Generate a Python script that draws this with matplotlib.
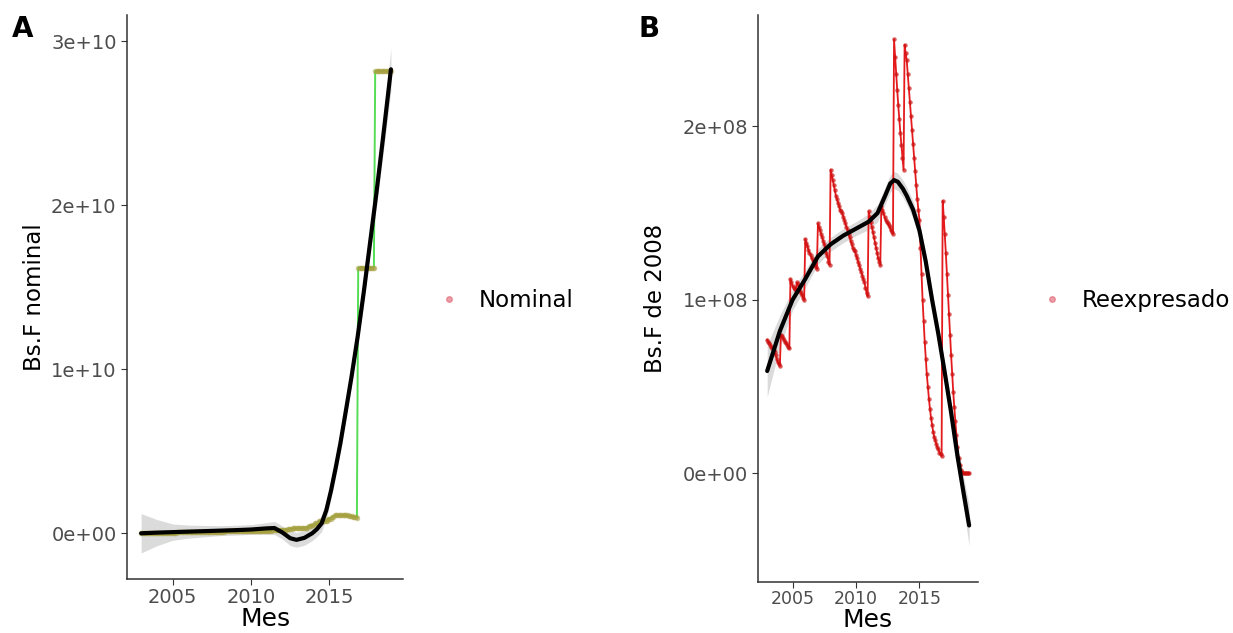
import numpy as np
import matplotlib
matplotlib.use("Agg")
import matplotlib.pyplot as plt
from matplotlib.lines import Line2D

plt.rcParams['font.family'] = ['DejaVu Sans']

start_year = 2003
# nominal wage, Bs.F (x 1e10), one value per month 2003-2018
nominal = [
    0.002, 0.002, 0.002, 0.002, 0.003, 0.003, 0.003, 0.003, 0.003, 0.003, 0.003, 0.003,
    0.003, 0.003, 0.003, 0.003, 0.004, 0.004, 0.004, 0.004, 0.004, 0.004, 0.004, 0.004,
    0.004, 0.004, 0.004, 0.004, 0.005, 0.005, 0.005, 0.005, 0.005, 0.005, 0.005, 0.005,
    0.005, 0.006, 0.006, 0.006, 0.007, 0.007, 0.007, 0.007, 0.007, 0.007, 0.007, 0.007,
    0.007, 0.007, 0.007, 0.007, 0.009, 0.009, 0.009, 0.009, 0.009, 0.009, 0.009, 0.009,
    0.009, 0.009, 0.009, 0.009, 0.011, 0.011, 0.011, 0.011, 0.011, 0.011, 0.011, 0.011,
    0.011, 0.011, 0.011, 0.012, 0.012, 0.012, 0.012, 0.012, 0.013, 0.013, 0.013, 0.013,
    0.013, 0.013, 0.013, 0.015, 0.015, 0.015, 0.015, 0.015, 0.016, 0.016, 0.016, 0.016,
    0.016, 0.016, 0.016, 0.016, 0.020, 0.020, 0.020, 0.020, 0.022, 0.022, 0.022, 0.022,
    0.022, 0.022, 0.022, 0.022, 0.028, 0.028, 0.028, 0.028, 0.030, 0.030, 0.030, 0.030,
    0.030, 0.030, 0.030, 0.030, 0.035, 0.035, 0.035, 0.035, 0.045, 0.045, 0.045, 0.050,
    0.050, 0.060, 0.060, 0.060, 0.075, 0.075, 0.075, 0.075, 0.075, 0.075, 0.075, 0.090,
    0.090, 0.090, 0.100, 0.100, 0.110, 0.110, 0.110, 0.110, 0.110, 0.110, 0.110, 0.110,
    0.110, 0.110, 0.110, 0.105, 0.105, 0.105, 0.100, 0.100, 0.100, 0.095, 1.620, 1.620,
    1.620, 1.620, 1.620, 1.620, 1.620, 1.620, 1.620, 1.620, 1.620, 1.620, 1.620, 2.820,
    2.820, 2.820, 2.820, 2.820, 2.820, 2.820, 2.820, 2.820, 2.820, 2.820, 2.820, 2.820,
]
# wage in Bs.F of 2008 (x 1e8), one value per month 2003-2018
reexpresado = [
    0.77, 0.76, 0.75, 0.74, 0.73, 0.72, 0.71, 0.70, 0.68, 0.66, 0.64, 0.63,
    0.62, 0.80, 0.79, 0.78, 0.77, 0.76, 0.75, 0.74, 0.73, 0.72, 1.12, 1.10,
    1.08, 1.07, 1.06, 1.05, 1.10, 1.09, 1.07, 1.05, 1.04, 1.03, 1.01, 1.00,
    1.35, 1.33, 1.31, 1.29, 1.27, 1.26, 1.24, 1.23, 1.22, 1.20, 1.19, 1.18,
    1.44, 1.42, 1.40, 1.38, 1.36, 1.34, 1.32, 1.30, 1.27, 1.25, 1.22, 1.20,
    1.75, 1.72, 1.69, 1.66, 1.63, 1.60, 1.58, 1.56, 1.54, 1.52, 1.51, 1.50,
    1.48, 1.46, 1.44, 1.42, 1.40, 1.38, 1.36, 1.34, 1.32, 1.30, 1.29, 1.28,
    1.26, 1.24, 1.22, 1.20, 1.18, 1.16, 1.14, 1.12, 1.10, 1.07, 1.04, 1.02,
    1.51, 1.48, 1.45, 1.42, 1.39, 1.36, 1.33, 1.30, 1.27, 1.24, 1.22, 1.20,
    1.54, 1.52, 1.50, 1.48, 1.46, 1.45, 1.44, 1.43, 1.42, 1.40, 1.39, 1.38,
    2.50, 2.40, 2.30, 2.21, 2.12, 2.04, 1.96, 1.89, 1.82, 1.75, 2.47, 2.42,
    2.38, 2.30, 2.22, 2.14, 2.06, 1.98, 1.90, 1.82, 1.74, 1.66, 1.58, 1.52,
    1.46, 1.30, 1.15, 1.00, 0.88, 0.76, 0.66, 0.57, 0.50, 0.43, 0.37, 0.32,
    0.28, 0.24, 0.21, 0.19, 0.17, 0.15, 0.14, 0.12, 0.11, 0.10, 1.57, 1.48,
    1.38, 1.27, 1.15, 1.03, 0.92, 0.80, 0.68, 0.57, 0.47, 0.38, 0.30, 0.22,
    0.15, 0.09, 0.05, 0.02, 0.01, 0.005, 0.003, 0.002, 0.001, 0.001, 0.001, 0.001,
]

# smoothed trend (geom_smooth)
smooth_a_x = [2003.0, 2004.0, 2005.0, 2006.0, 2007.0, 2008.0, 2009.0, 2010.0, 2011.0, 2011.5,
              2012.0, 2012.5, 2012.9, 2013.4, 2013.9, 2014.2, 2014.5, 2014.8, 2015.1, 2015.4,
              2015.7, 2016.0, 2016.4, 2016.8, 2017.2, 2017.6, 2018.0, 2018.4, 2018.92]
smooth_a_y = [0.000, 0.004, 0.007, 0.010, 0.013, 0.016, 0.019, 0.023, 0.030, 0.032,
              0.005, -0.030, -0.040, -0.028, 0.000, 0.025, 0.060, 0.140, 0.260, 0.400,
              0.550, 0.720, 0.950, 1.200, 1.480, 1.780, 2.080, 2.400, 2.830]
smooth_a_se = [0.12, 0.08, 0.05, 0.04, 0.035, 0.03, 0.03, 0.03, 0.035, 0.04,
               0.04, 0.045, 0.045, 0.045, 0.045, 0.045, 0.05, 0.05, 0.05, 0.05,
               0.05, 0.05, 0.05, 0.05, 0.06, 0.07, 0.08, 0.10, 0.13]

smooth_b_x = [2003.0, 2004.0, 2005.0, 2006.0, 2007.0, 2008.0, 2009.0, 2010.0, 2011.0, 2011.7,
              2012.3, 2012.7, 2013.0, 2013.3, 2013.7, 2014.0, 2014.5, 2015.0, 2015.5, 2016.0,
              2016.5, 2017.0, 2017.5, 2018.0, 2018.5, 2018.92]
smooth_b_y = [0.59, 0.82, 1.00, 1.12, 1.25, 1.32, 1.37, 1.41, 1.45, 1.50,
              1.60, 1.67, 1.69, 1.68, 1.64, 1.60, 1.52, 1.40, 1.22, 1.00,
              0.80, 0.58, 0.35, 0.10, -0.12, -0.30]
smooth_b_se = [0.15, 0.09, 0.06, 0.05, 0.045, 0.04, 0.04, 0.04, 0.045, 0.05,
               0.05, 0.05, 0.05, 0.05, 0.05, 0.05, 0.05, 0.05, 0.05, 0.05,
               0.05, 0.055, 0.06, 0.07, 0.09, 0.12]

mes = start_year + np.arange(len(nominal)) / 12.0
nominal = np.array(nominal) * 1e10
reexpresado = np.array(reexpresado) * 1e8

fig = plt.figure(figsize=(12.33, 6.33), dpi=100)
ax1 = fig.add_axes([0.103, 0.085, 0.224, 0.891])
ax2 = fig.add_axes([0.615, 0.081, 0.178, 0.895])

tick_col = '#4d4d4d'


def style(ax, ylabel, xsize, ylab_x):
    for s in ['top', 'right']:
        ax.spines[s].set_visible(False)
    for s in ['left', 'bottom']:
        ax.spines[s].set_color('#333333')
        ax.spines[s].set_linewidth(1.1)
    ax.tick_params(colors='#333333', labelcolor=tick_col, labelsize=14, length=4)
    ax.tick_params(axis='x', labelsize=xsize, pad=2)
    ax.set_xlabel('Mes', fontsize=18, labelpad=0)
    ax.set_ylabel(ylabel, fontsize=16.5)
    ax.yaxis.set_label_coords(ylab_x, 0.5)
    ax.set_xticks([2005, 2010, 2015])


# panel A
sx = np.array(smooth_a_x)
sy = np.array(smooth_a_y) * 1e10
se = np.array(smooth_a_se) * 1e10
ax1.fill_between(sx, sy - se, sy + se, color='#999999', alpha=0.35, lw=0)
ax1.plot(mes, nominal, color='#55dd55', lw=1.4)
ax1.scatter(mes, nominal, s=16, color='#a8a040', alpha=0.55, lw=0, zorder=3)
ax1.plot(sx, sy, color='black', lw=3, zorder=4, solid_capstyle='round')
ax1.set_xlim(2002.1, 2019.7)
ax1.set_ylim(-0.28e10, 3.16e10)
ax1.set_yticks([0, 1e10, 2e10, 3e10])
ax1.set_yticklabels(['0e+00', '1e+10', '2e+10', '3e+10'])
style(ax1, 'Bs.F nominal', 14, -0.293)

# panel B
sx = np.array(smooth_b_x)
sy = np.array(smooth_b_y) * 1e8
se = np.array(smooth_b_se) * 1e8
ax2.fill_between(sx, sy - se, sy + se, color='#999999', alpha=0.35, lw=0)
ax2.plot(mes, reexpresado, color='#e41a1c', lw=1.3)
ax2.scatter(mes, reexpresado, s=10, color='#cc1111', alpha=0.7, lw=0, zorder=3)
ax2.plot(sx, sy, color='black', lw=3, zorder=4, solid_capstyle='round')
ax2.set_xlim(2002.3, 2019.6)
ax2.set_ylim(-0.624e8, 2.64e8)
ax2.set_yticks([0, 1e8, 2e8])
ax2.set_yticklabels(['0e+00', '1e+08', '2e+08'])
style(ax2, 'Bs.F de 2008', 12.5, -0.414)

for name, x in [('Nominal', 0.3545), ('Reexpresado', 0.844)]:
    h = Line2D([], [], marker='o', ls='', color='#e06070', alpha=0.6, markersize=4)
    fig.legend([h], [name], loc='center left', bbox_to_anchor=(x, 0.526), frameon=False,
               fontsize=16.5, handlelength=1.0, handletextpad=0.8,
               borderpad=0, borderaxespad=0)

fig.text(0.01, 0.976, 'A', fontsize=20, fontweight='bold', va='top')
fig.text(0.518, 0.976, 'B', fontsize=20, fontweight='bold', va='top')

fig.savefig('out.png', dpi=100)
